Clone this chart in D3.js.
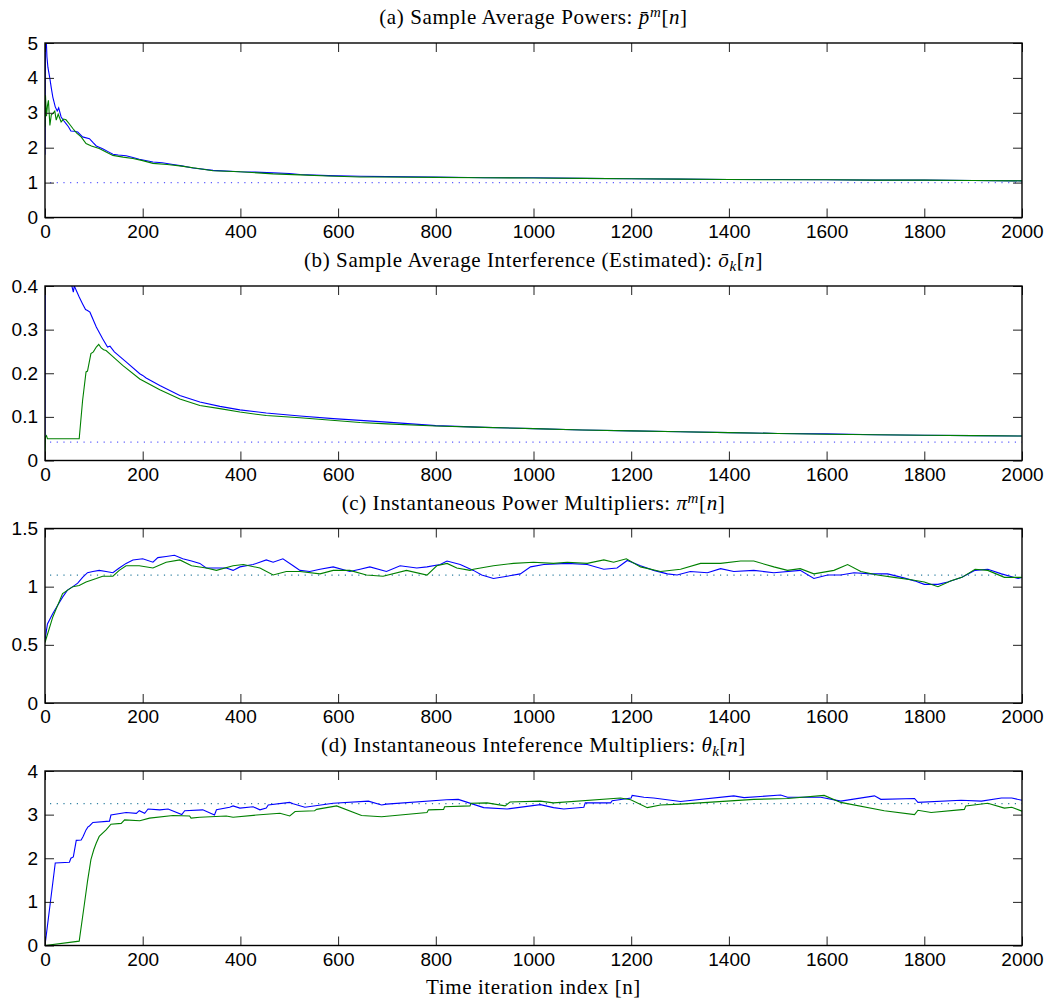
<!DOCTYPE html>
<html>
<head>
<meta charset="utf-8">
<script src="https://cdn.jsdelivr.net/npm/d3@7"></script>
<style>
  body { margin: 0; background: #fff; }
  .tick text { font-family: "Liberation Sans", Arial, sans-serif; font-size: 19px; fill: #000; }
  .tick line { stroke: #222; stroke-width: 1; }
  .title { font-family: "Liberation Serif", "DejaVu Serif", serif; font-size: 21px; letter-spacing: 0.6px; fill: #000; }
</style>
</head>
<body>
<div id="chart"></div>
<script>
// x ticks shared by all four panels
var xTicks = [0, 200, 400, 600, 800, 1000, 1200, 1400, 1600, 1800, 2000];

// (a) sample average powers  [n, value]
var aBlue = [[0,1.8],[1,5.6],[2,5.3],[4,4.6],[6,4.3],[10,3.98],[13,3.7],[16,3.45],[21,3.17],[25,3.05],[28,3.14],[33,2.88],[38,2.78],[43,2.69],[48,2.6],[53,2.48],[60,2.47],[67,2.45],[77,2.31],[91,2.26],[98,2.15],[105,2.05],[118,1.97],[130,1.88],[139,1.81],[150,1.79],[166,1.77],[180,1.72],[193,1.67],[221,1.59],[240,1.57],[262,1.52],[280,1.48],[303,1.42],[344,1.35],[399,1.31],[430,1.3],[467,1.28],[500,1.26],[522,1.23],[580,1.2],[645,1.18],[700,1.17],[800,1.16],[900,1.14],[1000,1.14],[1100,1.12],[1200,1.11],[1300,1.1],[1400,1.09],[1500,1.09],[1600,1.08],[1700,1.07],[1800,1.07],[1900,1.06],[2000,1.05]];
var aGreen = [[0,2.6],[1,3.5],[3,2.9],[5,3.2],[7,3.36],[10,2.64],[13,2.95],[16,2.98],[20,3.05],[23,2.79],[27,2.96],[30,2.85],[33,2.74],[38,2.82],[43,2.8],[50,2.68],[57,2.55],[65,2.42],[74,2.31],[84,2.12],[95,2.05],[111,1.98],[125,1.88],[139,1.78],[160,1.73],[180,1.69],[200,1.63],[221,1.55],[250,1.52],[276,1.48],[310,1.41],[344,1.34],[399,1.31],[467,1.25],[522,1.22],[580,1.19],[645,1.16],[700,1.16],[800,1.15],[900,1.14],[1000,1.13],[1100,1.12],[1200,1.11],[1300,1.1],[1400,1.09],[1500,1.08],[1600,1.08],[1700,1.07],[1800,1.07],[1900,1.06],[2000,1.05]];
var aTarget = 1.0;
var aYTicks = [0, 1, 2, 3, 4, 5];

// (b) sample average interference
var bBlue = [[0,0.05],[1,0.9],[20,0.6],[40,0.47],[55,0.4],[58,0.386],[60,0.4],[70,0.375],[77,0.359],[83,0.346],[87,0.344],[92,0.34],[105,0.306],[118,0.279],[128,0.26],[133,0.262],[142,0.249],[166,0.226],[194,0.199],[200,0.195],[207,0.189],[235,0.172],[276,0.149],[317,0.134],[358,0.124],[399,0.116],[453,0.109],[522,0.102],[590,0.096],[645,0.092],[700,0.088],[800,0.08],[900,0.076],[1000,0.073],[1100,0.07],[1200,0.068],[1300,0.066],[1400,0.064],[1500,0.062],[1600,0.061],[1700,0.059],[1800,0.058],[1900,0.057],[2000,0.056]];
var bGreen = [[0,0],[1,0.054],[3,0.057],[5,0.05],[70,0.05],[77,0.138],[84,0.203],[87,0.205],[94,0.245],[99,0.249],[105,0.26],[110,0.266],[115,0.258],[120,0.254],[125,0.252],[135,0.242],[159,0.218],[194,0.187],[235,0.162],[276,0.141],[317,0.126],[358,0.119],[399,0.111],[453,0.103],[522,0.098],[645,0.087],[700,0.084],[800,0.079],[900,0.076],[1000,0.073],[1100,0.07],[1200,0.068],[1300,0.066],[1400,0.064],[1500,0.062],[1600,0.06],[1700,0.059],[1800,0.058],[1900,0.057],[2000,0.056]];
var bTarget = 0.042;
var bYTicks = [0, 0.1, 0.2, 0.3, 0.4];

// (c) instantaneous power multipliers
var cBlue = [[0,0.54],[5,0.68],[16,0.77],[26,0.84],[36,0.91],[46,0.97],[57,1.0],[67,1.03],[77,1.08],[87,1.12],[98,1.13],[111,1.14],[125,1.13],[139,1.12],[152,1.16],[166,1.2],[180,1.23],[200,1.24],[221,1.21],[231,1.25],[248,1.26],[265,1.27],[282,1.24],[300,1.22],[317,1.2],[330,1.16],[351,1.16],[371,1.16],[385,1.14],[399,1.17],[426,1.19],[453,1.23],[467,1.21],[487,1.24],[508,1.18],[522,1.14],[542,1.13],[563,1.15],[590,1.17],[624,1.13],[645,1.15],[665,1.17],[699,1.13],[727,1.18],[761,1.16],[782,1.17],[809,1.19],[823,1.22],[850,1.19],[877,1.14],[894,1.1],[918,1.07],[946,1.09],[973,1.11],[994,1.17],[1021,1.19],[1069,1.2],[1110,1.19],[1144,1.15],[1171,1.16],[1192,1.225],[1219,1.18],[1246,1.14],[1274,1.11],[1294,1.1],[1321,1.13],[1356,1.12],[1383,1.155],[1410,1.13],[1451,1.14],[1492,1.12],[1546,1.14],[1574,1.07],[1602,1.1],[1629,1.1],[1656,1.12],[1691,1.11],[1725,1.11],[1754,1.08],[1780,1.05],[1800,1.02],[1828,1.02],[1848,1.04],[1877,1.08],[1904,1.14],[1930,1.15],[1958,1.11],[1992,1.07],[2000,1.08]];
var cGreen = [[0,0.52],[16,0.74],[36,0.94],[57,1.0],[70,1.01],[84,1.04],[105,1.07],[118,1.09],[139,1.09],[152,1.14],[166,1.18],[193,1.18],[221,1.16],[248,1.21],[276,1.23],[300,1.18],[330,1.16],[351,1.14],[385,1.18],[406,1.19],[440,1.16],[467,1.1],[494,1.13],[522,1.13],[563,1.11],[590,1.14],[624,1.14],[658,1.1],[692,1.09],[740,1.14],[782,1.1],[802,1.18],[823,1.2],[843,1.16],[870,1.14],[877,1.15],[918,1.18],[959,1.2],[1000,1.21],[1041,1.2],[1069,1.21],[1110,1.2],[1144,1.23],[1164,1.21],[1190,1.24],[1219,1.17],[1260,1.13],[1301,1.15],[1342,1.2],[1383,1.2],[1424,1.22],[1451,1.22],[1492,1.17],[1520,1.14],[1546,1.155],[1574,1.11],[1615,1.14],[1643,1.19],[1670,1.13],[1704,1.1],[1738,1.08],[1773,1.06],[1800,1.04],[1828,1.0],[1855,1.05],[1877,1.08],[1904,1.15],[1930,1.14],[1964,1.08],[2000,1.08]];
var cTarget = 1.1;
var cYTicks = [0, 0.5, 1, 1.5];

// (d) instantaneous interference multipliers
var dBlue = [[0,0],[21,1.89],[50,1.91],[53,2.0],[58,2.03],[64,2.41],[74,2.42],[78,2.5],[84,2.65],[88,2.72],[91,2.74],[98,2.82],[132,2.85],[135,2.99],[166,3.05],[187,3.03],[193,3.09],[204,3.03],[211,3.13],[235,3.11],[252,3.13],[280,3.0],[286,3.09],[323,3.11],[347,2.99],[351,3.11],[378,3.17],[385,3.2],[399,3.15],[426,3.18],[440,3.11],[453,3.15],[457,3.22],[501,3.28],[508,3.25],[532,3.17],[590,3.26],[662,3.31],[689,3.22],[699,3.24],[822,3.34],[846,3.35],[898,3.16],[946,3.13],[1014,3.23],[1041,3.16],[1062,3.13],[1103,3.17],[1106,3.27],[1158,3.27],[1161,3.32],[1200,3.38],[1202,3.44],[1226,3.4],[1246,3.38],[1301,3.3],[1410,3.43],[1431,3.39],[1506,3.45],[1520,3.4],[1588,3.4],[1629,3.31],[1698,3.43],[1711,3.35],[1780,3.37],[1787,3.28],[1875,3.33],[1917,3.31],[1958,3.38],[1979,3.38],[2000,3.33]];
var dGreen = [[0,0],[70,0.1],[81,0.98],[87,1.47],[94,1.97],[100,2.2],[105,2.35],[111,2.5],[125,2.65],[135,2.78],[156,2.8],[163,2.88],[194,2.86],[214,2.92],[262,2.98],[296,2.97],[299,2.92],[317,2.94],[371,2.97],[385,2.94],[433,2.99],[481,3.03],[501,2.97],[512,3.07],[552,3.09],[556,3.12],[597,3.2],[648,2.98],[689,2.95],[782,3.05],[785,3.11],[816,3.12],[818,3.18],[870,3.2],[872,3.26],[905,3.27],[942,3.2],[952,3.29],[1014,3.31],[1041,3.27],[1178,3.38],[1199,3.34],[1233,3.16],[1260,3.22],[1301,3.24],[1451,3.35],[1520,3.37],[1595,3.44],[1629,3.28],[1718,3.09],[1780,3.0],[1787,3.1],[1814,3.05],[1882,3.12],[1885,3.2],[1930,3.26],[1964,3.15],[1979,3.17],[2000,3.08]];
var dTarget = 3.25;
var dYTicks = [0, 1, 2, 3, 4];

// page size and plot box
var W = 1056, H = 1008;
var left = 45, right = 1022, plotH = 174.5;
var tops = [43, 286, 528.5, 771];

var svg = d3.select("#chart").append("svg")
    .attr("width", W)
    .attr("height", H);

var x = d3.scaleLinear().domain([0, 2000]).range([left, right]);
var fmt = d3.format("~g");

var panels = [
    {blue: aBlue, green: aGreen, target: aTarget, yTicks: aYTicks, ymax: 5, dotColor: "#5c5cff",
     title: [["(a) Sample Average Powers:  "], ["p\u0304", "it"], ["m", "sup"], ["[", ""], ["n", "it"], ["]", ""]]},
    {blue: bBlue, green: bGreen, target: bTarget, yTicks: bYTicks, ymax: 0.4, dotColor: "#5c5cff",
     title: [["(b) Sample Average Interference (Estimated):  "], ["o\u0304", "it"], ["k", "sub"], ["[", ""], ["n", "it"], ["]", ""]]},
    {blue: cBlue, green: cGreen, target: cTarget, yTicks: cYTicks, ymax: 1.5, dotColor: "#2e7fa0",
     title: [["(c) Instantaneous Power Multipliers:  "], ["\u03c0", "it"], ["m", "sup"], ["[", ""], ["n", "it"], ["]", ""]]},
    {blue: dBlue, green: dGreen, target: dTarget, yTicks: dYTicks, ymax: 4, dotColor: "#2e7fa0",
     title: [["(d) Instantaneous Inteference Multipliers:  "], ["\u03b8", "it"], ["k", "sub"], ["[", ""], ["n", "it"], ["]", ""]]}
];

panels.forEach(function (p, i) {
    var top = tops[i], bottom = top + plotH;
    var y = d3.scaleLinear().domain([0, p.ymax]).range([bottom, top]);

    var g = svg.append("g");

    // clip so curves leaving the range are cut at the box
    g.append("clipPath").attr("id", "clip" + i)
        .append("rect")
        .attr("x", left).attr("y", top)
        .attr("width", right - left).attr("height", plotH);

    var line = d3.line()
        .x(function (d) { return x(d[0]); })
        .y(function (d) { return y(d[1]); });

    var plot = g.append("g").attr("clip-path", "url(#clip" + i + ")");

    // dotted target level
    plot.append("line")
        .attr("x1", x(0) + 5).attr("x2", x(2000))
        .attr("y1", y(p.target)).attr("y2", y(p.target))
        .attr("stroke", p.dotColor)
        .attr("stroke-width", 1.2)
        .attr("stroke-dasharray", "1.2,5.5");

    plot.append("path")
        .datum(p.blue)
        .attr("d", line)
        .attr("fill", "none")
        .attr("stroke", "#0000ff")
        .attr("stroke-width", 1.1);

    plot.append("path")
        .datum(p.green)
        .attr("d", line)
        .attr("fill", "none")
        .attr("stroke", "#008000")
        .attr("stroke-width", 1.1);

    // axes with inward ticks on all four sides
    g.append("g")
        .attr("transform", "translate(0," + bottom + ")")
        .call(d3.axisBottom(x).tickValues(xTicks).tickFormat(fmt).tickSize(-9).tickSizeOuter(0).tickPadding(7))
        .call(function (s) { s.select(".domain").remove(); });
    g.append("g")
        .attr("transform", "translate(0," + top + ")")
        .call(d3.axisTop(x).tickValues(xTicks).tickFormat("").tickSize(-9).tickSizeOuter(0))
        .call(function (s) { s.select(".domain").remove(); });
    g.append("g")
        .attr("transform", "translate(" + left + ",0)")
        .call(d3.axisLeft(y).tickValues(p.yTicks).tickFormat(fmt).tickSize(-9).tickSizeOuter(0).tickPadding(7))
        .call(function (s) { s.select(".domain").remove(); });
    g.append("g")
        .attr("transform", "translate(" + right + ",0)")
        .call(d3.axisRight(y).tickValues(p.yTicks).tickFormat("").tickSize(-9).tickSizeOuter(0))
        .call(function (s) { s.select(".domain").remove(); });

    g.append("rect")
        .attr("x", left).attr("y", top)
        .attr("width", right - left).attr("height", plotH)
        .attr("fill", "none")
        .attr("stroke", "#000")
        .attr("stroke-width", 1.4);

    // title above each panel
    var t = g.append("text")
        .attr("class", "title")
        .attr("x", (left + right) / 2)
        .attr("y", top - 19)
        .attr("text-anchor", "middle");
    p.title.forEach(function (part) {
        var ts = t.append("tspan").text(part[0]);
        if (part[1] === "it" || part[1] === "sup" || part[1] === "sub") ts.style("font-style", "italic");
        if (part[1] === "sup") ts.attr("dy", -7).style("font-size", "15px");
        if (part[1] === "sub") ts.attr("dy", 4).style("font-size", "15px");
        if (part[1] === "") ts.attr("dy", 0);
    });
    // reset baseline after the script part
    t.selectAll("tspan").each(function (d, j) {
        var kind = p.title[j][1];
        var prev = j > 0 ? p.title[j - 1][1] : null;
        if (prev === "sup" && kind !== "sup") d3.select(this).attr("dy", 7);
        if (prev === "sub" && kind !== "sub") d3.select(this).attr("dy", -4);
    });
});

// x axis label
svg.append("text")
    .attr("class", "title")
    .attr("x", (left + right) / 2)
    .attr("y", 994)
    .attr("text-anchor", "middle")
    .text("Time iteration index [n]");
</script>
</body>
</html>
